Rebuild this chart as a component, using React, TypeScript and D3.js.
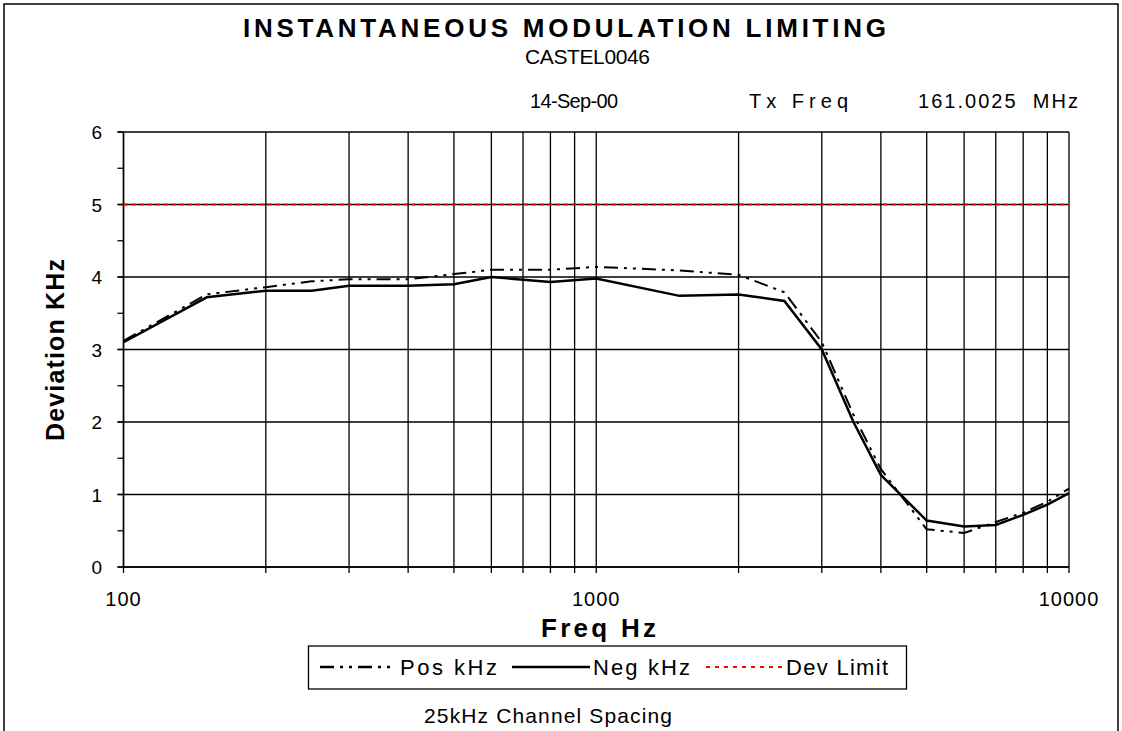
import React from "react";
import * as d3 from "d3";

const freqs = [100, 150, 200, 250, 300, 400, 500, 600, 800, 1000, 1500, 2000, 2500, 3000, 3500, 4000, 5000, 6000, 7000, 8000, 9000, 10000];
const posKHz = [3.12, 3.76, 3.86, 3.94, 3.97, 3.97, 4.04, 4.1, 4.1, 4.14, 4.09, 4.03, 3.79, 3.1, 2.1, 1.35, 0.52, 0.47, 0.62, 0.75, 0.9, 1.08];
const negKHz = [3.1, 3.72, 3.81, 3.81, 3.88, 3.88, 3.9, 4.0, 3.93, 3.98, 3.74, 3.76, 3.67, 3.0, 2.0, 1.27, 0.64, 0.56, 0.58, 0.72, 0.86, 1.02];
const devLimit = [5, 5, 5, 5, 5, 5, 5, 5, 5, 5, 5, 5, 5, 5, 5, 5, 5, 5, 5, 5, 5, 5];
const xTickLabels = [100, 1000, 10000];
const yTickLabels = [0, 1, 2, 3, 4, 5, 6];

const FONT = "'Liberation Sans', Arial, sans-serif";
const POS_DASH = "14,6,3,6,3,6";

export default function App() {
  const x = d3.scaleLog().domain([100, 10000]).range([123.5, 1069]);
  const y = d3.scaleLinear().domain([0, 6]).range([567, 132]);

  const minor: number[] = [];
  [100, 1000].forEach((dec) => {
    for (let k = 1; k <= 10; k++) minor.push(dec * k);
  });
  const gridX = Array.from(new Set(minor));
  const halfTicks = d3.range(0, 6.01, 0.5);

  const line = d3
    .line<number>()
    .x((_, i) => x(freqs[i]))
    .y((d) => y(d));

  return (
    <svg
      width={1122}
      height={731}
      style={{ position: "absolute", left: 0, top: 0, display: "block", background: "#fff" }}
      fontFamily={FONT}
    >
      <rect x={0} y={0} width={1122} height={731} fill="#fff" />
      <rect x={4} y={4} width={1114} height={760} fill="none" stroke="#000" strokeWidth={1.5} />

      {/* Titles */}
      <text x={564.5} y={37} textAnchor="middle" fontSize={26} fontWeight="bold" textLength={643} lengthAdjust="spacing">
        INSTANTANEOUS MODULATION LIMITING
      </text>
      <text x={587.5} y={64} textAnchor="middle" fontSize={21} textLength={125} lengthAdjust="spacing">
        CASTEL0046
      </text>
      <text x={574} y={108} textAnchor="middle" fontSize={20} textLength={88} lengthAdjust="spacing">
        14-Sep-00
      </text>
      <text x={798.5} y={108} textAnchor="middle" fontSize={20} textLength={99} lengthAdjust="spacing">
        Tx Freq
      </text>
      <text x={998} y={108} textAnchor="middle" fontSize={20} textLength={160} lengthAdjust="spacing" xmlSpace="preserve">
        161.0025  MHz
      </text>

      {/* Grid */}
      {gridX.map((f) => (
        <line key={"gx" + f} x1={x(f)} x2={x(f)} y1={y(6)} y2={y(0) + 6} stroke="#000" strokeWidth={1.3} />
      ))}
      {yTickLabels.map((v) => (
        <line key={"gy" + v} x1={x(100) - 6} x2={x(10000)} y1={y(v)} y2={y(v)} stroke="#000" strokeWidth={1.3} />
      ))}
      {halfTicks.map((v) => (
        <line key={"ht" + v} x1={x(100) - 6} x2={x(100)} y1={y(v)} y2={y(v)} stroke="#000" strokeWidth={1.3} />
      ))}
      <line x1={x(100)} x2={x(100)} y1={y(6)} y2={y(0)} stroke="#000" strokeWidth={1.5} />
      <line x1={x(100)} x2={x(10000)} y1={y(0)} y2={y(0)} stroke="#000" strokeWidth={1.5} />

      {/* Tick labels */}
      {yTickLabels.map((v) => (
        <text key={"yl" + v} x={102} y={y(v) + 7} textAnchor="end" fontSize={19}>
          {v}
        </text>
      ))}
      {xTickLabels.map((v) => (
        <text key={"xl" + v} x={x(v)} y={606} textAnchor="middle" fontSize={20} letterSpacing={1}>
          {v}
        </text>
      ))}

      {/* Axis titles */}
      <text x={598.5} y={637} textAnchor="middle" fontSize={26} fontWeight="bold" textLength={115} lengthAdjust="spacing">
        Freq Hz
      </text>
      <text
        transform={`translate(64,350) rotate(-90)`}
        textAnchor="middle"
        fontSize={25}
        fontWeight="bold"
        textLength={182}
        lengthAdjust="spacing"
      >
        Deviation KHz
      </text>

      {/* Series */}
      <path d={line(devLimit) || ""} fill="none" stroke="#ff0000" strokeWidth={2} strokeDasharray="4,4" />
      <path d={line(negKHz) || ""} fill="none" stroke="#000" strokeWidth={2.5} />
      <path d={line(posKHz) || ""} fill="none" stroke="#000" strokeWidth={2} strokeDasharray={POS_DASH} />

      {/* Legend */}
      <rect x={308.5} y={646} width={598} height={43} fill="#fff" stroke="#000" strokeWidth={1.3} />
      <line x1={320} x2={396} y1={667} y2={667} stroke="#000" strokeWidth={2.5} strokeDasharray={POS_DASH} />
      <text x={400} y={675} fontSize={22} textLength={97} lengthAdjust="spacing">Pos kHz</text>
      <line x1={512} x2={590} y1={667} y2={667} stroke="#000" strokeWidth={2.5} />
      <text x={593} y={675} fontSize={22} textLength={97} lengthAdjust="spacing">Neg kHz</text>
      <line x1={706} x2={782} y1={667} y2={667} stroke="#ff0000" strokeWidth={2} strokeDasharray="4,5" />
      <text x={786} y={675} fontSize={22} textLength={102} lengthAdjust="spacing">Dev Limit</text>

      <text x={548} y={723} textAnchor="middle" fontSize={21} textLength={248} lengthAdjust="spacing">
        25kHz Channel Spacing
      </text>
    </svg>
  );
}
